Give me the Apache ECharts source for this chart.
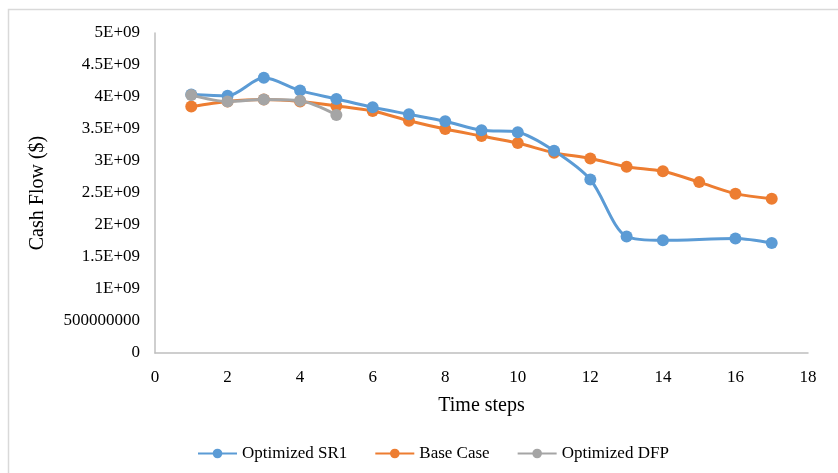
<!DOCTYPE html>
<html>
<head>
<meta charset="utf-8">
<script src="https://cdn.jsdelivr.net/npm/echarts@6/dist/echarts.min.js"></script>
<style>html,body{margin:0;padding:0;background:#fff;}#c{width:838px;height:473px;}</style>
</head>
<body>
<div id="c"></div>
<script>
const seriesNames = ['Optimized SR1', 'Base Case', 'Optimized DFP'];
const sr1X = [1, 2, 3, 4, 5, 6, 7, 8, 9, 10, 11, 12, 13, 14, 16, 17];
const sr1Y = [4.04e9, 4.02e9, 4.30e9, 4.10e9, 3.97e9, 3.84e9, 3.73e9, 3.62e9, 3.48e9, 3.45e9, 3.16e9, 2.71e9, 1.82e9, 1.76e9, 1.79e9, 1.72e9];
const baseX = [1, 2, 3, 4, 5, 6, 7, 8, 9, 10, 11, 12, 13, 14, 15, 16, 17];
const baseY = [3.85e9, 3.93e9, 3.96e9, 3.93e9, 3.86e9, 3.78e9, 3.63e9, 3.50e9, 3.39e9, 3.28e9, 3.13e9, 3.04e9, 2.91e9, 2.84e9, 2.67e9, 2.49e9, 2.41e9];
const dfpX = [1, 2, 3, 4, 5];
const dfpY = [4.03e9, 3.93e9, 3.96e9, 3.94e9, 3.72e9];
const colors = ['#5B9BD5', '#ED7D31', '#A5A5A5'];

function pairs(xs, ys) { return xs.map((x, i) => [x, ys[i]]); }

function yLabel(v) {
  if (v === 0) return '0';
  if (v === 5e8) return '500000000';
  return (v / 1e9) + 'E+09';
}

const font = 'Liberation Serif';
const chart = echarts.init(document.getElementById('c'));
const datas = [pairs(sr1X, sr1Y), pairs(baseX, baseY), pairs(dfpX, dfpY)];
chart.setOption({
  animation: false,
  textStyle: { fontFamily: font },
  graphic: [{
    type: 'rect', shape: { x: 8.5, y: 9.5, width: 900, height: 500 },
    style: { fill: 'none', stroke: '#d9d9d9', lineWidth: 1.5 }, silent: true
  }],
  grid: { left: 155, right: 30, top: 33, bottom: 120, containLabel: false },
  xAxis: {
    type: 'value', min: 0, max: 18, interval: 2,
    name: 'Time steps', nameLocation: 'middle', nameGap: 43,
    nameTextStyle: { fontFamily: font, fontSize: 20, color: '#000' },
    axisLine: { show: true, lineStyle: { color: '#bfbfbf', width: 1.5 } },
    axisTick: { show: false },
    splitLine: { show: false },
    axisLabel: { fontFamily: font, fontSize: 17, color: '#000', margin: 16 }
  },
  yAxis: {
    type: 'value', min: 0, max: 5e9, interval: 5e8,
    name: 'Cash Flow ($)', nameLocation: 'middle', nameGap: 107, nameRotate: 90,
    nameTextStyle: { fontFamily: font, fontSize: 20, color: '#000' },
    axisLine: { show: true, lineStyle: { color: '#bfbfbf', width: 1.5 } },
    axisTick: { show: false },
    splitLine: { show: false },
    axisLabel: { fontFamily: font, fontSize: 17, color: '#000', margin: 15, formatter: yLabel }
  },
  legend: {
    bottom: 6, left: 192, itemGap: 27, itemWidth: 39, itemHeight: 12,
    textStyle: { fontFamily: font, fontSize: 17, color: '#000' },
    data: seriesNames
  },
  series: seriesNames.map((n, i) => ({
    name: n, type: 'line', data: datas[i], smooth: 0.3,
    symbol: 'circle', symbolSize: 12,
    lineStyle: { color: colors[i], width: 3 },
    itemStyle: { color: colors[i] },
    z: i === 2 ? 3 : (i === 0 ? 2 : 1)
  }))
});
</script>
</body>
</html>
